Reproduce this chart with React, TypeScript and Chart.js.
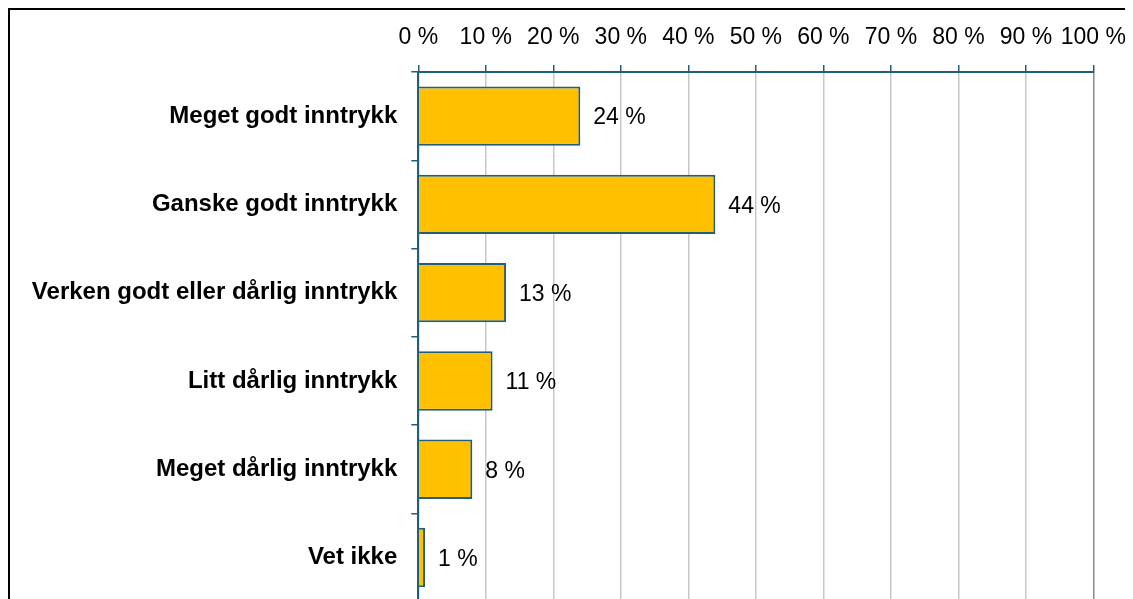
import React, { useEffect, useRef } from "react";
import { Chart, registerables } from "chart.js";

Chart.register(...registerables);

const categories = [
  "Meget godt inntrykk",
  "Ganske godt inntrykk",
  "Verken godt eller dårlig inntrykk",
  "Litt dårlig inntrykk",
  "Meget dårlig inntrykk",
  "Vet ikke",
];
const values = [24, 44, 13, 11, 8, 1];
const tickValues = [0, 10, 20, 30, 40, 50, 60, 70, 80, 90, 100];

const FONT = '"Liberation Sans", Arial, sans-serif';
const AXIS = "#1F5F7A";

const valueLabels = {
  id: "valueLabels",
  afterDatasetsDraw(chart: any) {
    const ctx = chart.ctx;
    const meta = chart.getDatasetMeta(0);
    ctx.save();
    ctx.font = `23px ${FONT}`;
    ctx.fillStyle = "#000";
    ctx.textAlign = "left";
    ctx.textBaseline = "middle";
    meta.data.forEach((bar: any, i: number) => {
      ctx.fillText(`${values[i]} %`, bar.x + 13, bar.y + 2);
    });
    ctx.restore();
  },
};

export default function App() {
  const ref = useRef<HTMLCanvasElement>(null);
  useEffect(() => {
    if (!ref.current) return;
    const chart = new Chart(ref.current, {
      type: "bar",
      data: {
        labels: categories,
        datasets: [
          {
            data: values,
            backgroundColor: "#FFC000",
            borderColor: AXIS,
            borderWidth: 2,
            categoryPercentage: 1,
            barPercentage: 0.673,
          },
        ],
      },
      options: {
        indexAxis: "y",
        animation: false,
        responsive: false,
        maintainAspectRatio: false,
        layout: { padding: 0 },
        plugins: {
          legend: { display: false },
          tooltip: { enabled: false },
        },
        scales: {
          x: {
            position: "top",
            min: 0,
            max: 100,
            afterBuildTicks: (scale: any) => {
              scale.ticks = tickValues.map((v) => ({ value: v }));
            },
            afterFit: (scale: any) => {
              scale.height = 64;
            },
            ticks: {
              callback: (v: any) => `${v} %`,
              color: "#000",
              font: { family: FONT, size: 23 },
              padding: 14,
              maxRotation: 0,
              autoSkip: false,
            },
            grid: {
              color: (c: any) => (c.tick && c.tick.value === 100 ? "#8C8C8C" : "#C8C8C8"),
              lineWidth: 1.5,
              tickLength: 7,
              tickColor: AXIS,
              tickWidth: 1.5,
            },
            border: { display: true, color: AXIS, width: 2 },
          },
          y: {
            afterFit: (scale: any) => {
              scale.width = 410.3;
            },
            ticks: {
              color: "#000",
              font: { family: FONT, size: 24, weight: "bold" },
              padding: 14,
            },
            grid: {
              drawOnChartArea: false,
              drawTicks: true,
              tickLength: 7,
              color: AXIS,
              tickColor: AXIS,
              lineWidth: 1.5,
              offset: true,
            },
            border: { display: true, color: AXIS, width: 2 },
          },
        },
      },
      plugins: [valueLabels],
    });
    return () => chart.destroy();
  }, []);

  return (
    <div style={{ position: "relative", width: 1125, height: 591, overflow: "hidden" }}>
      <div
        style={{
          position: "absolute",
          left: 0,
          top: 0,
          width: 1300,
          height: 800,
          borderTop: "2px solid #000",
          borderLeft: "2px solid #000",
          pointerEvents: "none",
        }}
      />
      <canvas
        ref={ref}
        width={1132}
        height={622}
        style={{ position: "absolute", left: 0, top: 0, width: 1132, height: 622 }}
      />
    </div>
  );
}
